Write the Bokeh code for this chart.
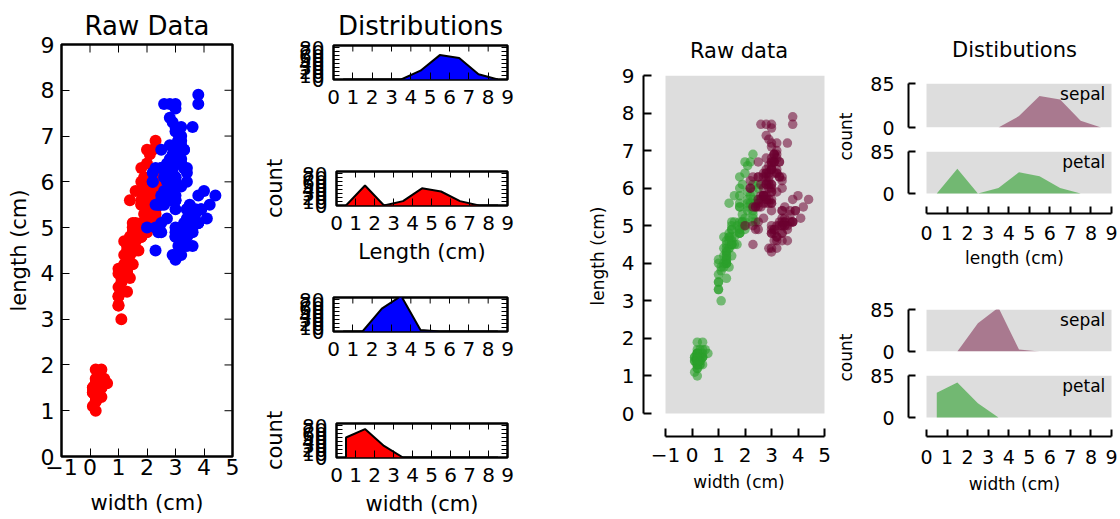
import math
from bokeh.plotting import figure
from bokeh.models import LinearAxis, Range1d, FixedTicker, BoxAnnotation, Label
from bokeh.layouts import row, column
from bokeh.embed import file_html
from bokeh.resources import INLINE

FONT = "DejaVu Sans"

# ---------------- data (iris measurements, cm) ----------------
sepal_length = [5.1,4.9,4.7,4.6,5.0,5.4,4.6,5.0,4.4,4.9,5.4,4.8,4.8,4.3,5.8,5.7,5.4,5.1,5.7,5.1,
                5.4,5.1,4.6,5.1,4.8,5.0,5.0,5.2,5.2,4.7,4.8,5.4,5.2,5.5,4.9,5.0,5.5,4.9,4.4,5.1,
                5.0,4.5,4.4,5.0,5.1,4.8,5.1,4.6,5.3,5.0,
                7.0,6.4,6.9,5.5,6.5,5.7,6.3,4.9,6.6,5.2,5.0,5.9,6.0,6.1,5.6,6.7,5.6,5.8,6.2,5.6,
                5.9,6.1,6.3,6.1,6.4,6.6,6.8,6.7,6.0,5.7,5.5,5.5,5.8,6.0,5.4,6.0,6.7,6.3,5.6,5.5,
                5.5,6.1,5.8,5.0,5.6,5.7,5.7,6.2,5.1,5.7,
                6.3,5.8,7.1,6.3,6.5,7.6,4.9,7.3,6.7,7.2,6.5,6.4,6.8,5.7,5.8,6.4,6.5,7.7,7.7,6.0,
                6.9,5.6,7.7,6.3,6.7,7.2,6.2,6.1,6.4,7.2,7.4,7.9,6.4,6.3,6.1,7.7,6.3,6.4,6.0,6.9,
                6.7,6.9,5.8,6.8,6.7,6.7,6.3,6.5,6.2,5.9]
sepal_width = [3.5,3.0,3.2,3.1,3.6,3.9,3.4,3.4,2.9,3.1,3.7,3.4,3.0,3.0,4.0,4.4,3.9,3.5,3.8,3.8,
               3.4,3.7,3.6,3.3,3.4,3.0,3.4,3.5,3.4,3.2,3.1,3.4,4.1,4.2,3.1,3.2,3.5,3.6,3.0,3.4,
               3.5,2.3,3.2,3.5,3.8,3.0,3.8,3.2,3.7,3.3,
               3.2,3.2,3.1,2.3,2.8,2.8,3.3,2.4,2.9,2.7,2.0,3.0,2.2,2.9,2.9,3.1,3.0,2.7,2.2,2.5,
               3.2,2.8,2.5,2.8,2.9,3.0,2.8,3.0,2.9,2.6,2.4,2.4,2.7,2.7,3.0,3.4,3.1,2.3,3.0,2.5,
               2.6,3.0,2.6,2.3,2.7,3.0,2.9,2.9,2.5,2.8,
               3.3,2.7,3.0,2.9,3.0,3.0,2.5,2.9,2.5,3.6,3.2,2.7,3.0,2.5,2.8,3.2,3.0,3.8,2.6,2.2,
               3.2,2.8,2.8,2.7,3.3,3.2,2.8,3.0,2.8,3.0,2.8,3.8,2.8,2.8,2.6,3.0,3.4,3.1,3.0,3.1,
               3.1,3.1,2.7,3.2,3.3,3.0,2.5,3.0,3.4,3.0]
petal_length = [1.4,1.4,1.3,1.5,1.4,1.7,1.4,1.5,1.4,1.5,1.5,1.6,1.4,1.1,1.2,1.5,1.3,1.4,1.7,1.5,
                1.7,1.5,1.0,1.7,1.9,1.6,1.6,1.5,1.4,1.6,1.6,1.5,1.5,1.4,1.5,1.2,1.3,1.4,1.3,1.5,
                1.3,1.3,1.3,1.6,1.9,1.4,1.6,1.4,1.5,1.4,
                4.7,4.5,4.9,4.0,4.6,4.5,4.7,3.3,4.6,3.9,3.5,4.2,4.0,4.7,3.6,4.4,4.5,4.1,4.5,3.9,
                4.8,4.0,4.9,4.7,4.3,4.4,4.8,5.0,4.5,3.5,3.8,3.7,3.9,5.1,4.5,4.5,4.7,4.4,4.1,4.0,
                4.4,4.6,4.0,3.3,4.2,4.2,4.2,4.3,3.0,4.1,
                6.0,5.1,5.9,5.6,5.8,6.6,4.5,6.3,5.8,6.1,5.1,5.3,5.5,5.0,5.1,5.3,5.5,6.7,6.9,5.0,
                5.7,4.9,6.7,4.9,5.7,6.0,4.8,4.9,5.6,5.8,6.1,6.4,5.6,5.1,5.6,6.1,5.6,5.5,4.8,5.4,
                5.6,5.1,5.1,5.9,5.7,5.2,5.0,5.2,5.4,5.1]
petal_width = [0.2,0.2,0.2,0.2,0.2,0.4,0.3,0.2,0.2,0.1,0.2,0.2,0.1,0.1,0.2,0.4,0.4,0.3,0.3,0.3,
               0.2,0.4,0.2,0.5,0.2,0.2,0.4,0.2,0.2,0.2,0.2,0.4,0.1,0.2,0.2,0.2,0.2,0.1,0.2,0.2,
               0.3,0.3,0.2,0.6,0.4,0.3,0.2,0.2,0.2,0.2,
               1.4,1.5,1.5,1.3,1.5,1.3,1.6,1.0,1.3,1.4,1.0,1.5,1.0,1.4,1.3,1.4,1.5,1.0,1.5,1.1,
               1.8,1.3,1.5,1.2,1.3,1.4,1.4,1.7,1.5,1.0,1.1,1.0,1.2,1.6,1.5,1.6,1.5,1.3,1.3,1.3,
               1.2,1.4,1.2,1.0,1.3,1.2,1.3,1.3,1.1,1.3,
               2.5,1.9,2.1,1.8,2.2,2.1,1.7,1.8,1.8,2.5,2.0,1.9,2.1,2.0,2.4,2.3,1.8,2.2,2.3,1.5,
               2.3,2.0,2.0,1.8,2.1,1.8,1.8,1.8,2.1,1.6,1.9,2.0,2.2,1.5,1.4,2.3,2.4,1.8,1.8,2.1,
               2.4,2.3,1.9,2.3,2.5,2.3,1.9,2.0,2.3,1.8]

# histogram counts (1 cm bins, plotted at bin centres)
bin_centers = [0.5, 1.5, 2.5, 3.5, 4.5, 5.5, 6.5, 7.5, 8.5]
sepal_length_counts = [0, 0, 0, 0, 22, 61, 54, 13, 0]
petal_length_counts = [0, 50, 0, 11, 43, 35, 11, 0, 0]
sepal_width_counts = [0, 0, 57, 89, 4, 0, 0, 0, 0]
petal_width_counts = [50, 71, 29, 0, 0, 0, 0, 0, 0]

# tick labels
scatter_x_ticks = [-1, 0, 1, 2, 3, 4, 5]
scatter_y_ticks = [0, 1, 2, 3, 4, 5, 6, 7, 8, 9]
dist_x_ticks = [0, 1, 2, 3, 4, 5, 6, 7, 8, 9]
dist_count_ticks = [0, 10, 20, 30, 40, 50, 60, 70, 80]
right_count_ticks = [0, 85]
COUNT_MAX = 85
MINUS = {-1: "\u22121"}


def base(width, height, xr, yr, left, right, top, bottom):
    p = figure(width=width, height=height, x_range=xr, y_range=yr,
               output_backend="svg", toolbar_location=None,
               x_axis_location=None, y_axis_location=None,
               min_border_left=left, min_border_right=right,
               min_border_top=top, min_border_bottom=bottom)
    p.frame_align = False
    p.grid.visible = False
    p.outline_line_color = None
    p.background_fill_color = "white"
    p.border_fill_color = "white"
    return p


def add_axis(p, side, ticks, font="20px", standoff=6, tick_in=7,
             tick_width=1, line=None, line_width=2, bounds=None, label=None,
             label_font="20px", label_standoff=5, overrides=None):
    ax = LinearAxis(ticker=FixedTicker(ticks=ticks, minor_ticks=[]))
    if line is None:
        ax.axis_line_color = None
    else:
        ax.axis_line_color = line
        ax.axis_line_width = line_width
    if bounds is not None:
        ax.bounds = bounds
    ax.major_tick_in = tick_in
    ax.major_tick_out = 0
    ax.major_tick_line_color = "black"
    ax.major_tick_line_width = tick_width
    ax.minor_tick_line_color = None
    ax.major_label_text_font = FONT
    ax.major_label_text_font_size = font
    ax.major_label_text_color = "black"
    ax.major_label_standoff = standoff
    if overrides:
        ax.major_label_overrides = overrides
    if label:
        ax.axis_label = label
        ax.axis_label_text_font = FONT
        ax.axis_label_text_font_size = label_font
        ax.axis_label_text_font_style = "normal"
        ax.axis_label_text_color = "black"
        ax.axis_label_standoff = label_standoff
    p.add_layout(ax, side)
    return ax


def inner_ticks(p, xticks, yticks, xr, yr, length):
    # matplotlib "classic" inward ticks on the top and right edges of the frame
    p.scatter(xticks, [yr[1]] * len(xticks), marker="dash", angle=math.pi / 2,
              size=2 * length, line_color="black", line_width=1)
    p.scatter([xr[1]] * len(yticks), yticks, marker="dash",
              size=2 * length, line_color="black", line_width=1)


def set_title(p, text, size, standoff):
    p.title.text = text
    p.title.text_font = FONT
    p.title.text_font_size = size
    p.title.text_font_style = "normal"
    p.title.text_color = "black"
    p.title.align = "center"
    p.title.standoff = standoff


# ---------------- A: left raw-data scatter ----------------
A_XR, A_YR = (-1, 5), (0, 9)
pA = base(260, 519, Range1d(*A_XR), Range1d(*A_YR), 61, 28, 44, 63)
pA.outline_line_color = "black"
pA.outline_line_width = 2.5
set_title(pA, "Raw Data", "26px", 8)
add_axis(pA, "left", scatter_y_ticks, font="22px", standoff=7, tick_in=8,
         label="length (cm)", label_font="21px", label_standoff=7)
add_axis(pA, "below", scatter_x_ticks, font="22px", standoff=2, tick_in=8,
         label="width (cm)", label_font="21px", label_standoff=13, overrides=MINUS)
inner_ticks(pA, scatter_x_ticks, scatter_y_ticks, A_XR, A_YR, 8)
pA.scatter(petal_width, petal_length, size=12, fill_color="#ff0000", line_color=None)
pA.scatter(sepal_width, sepal_length, size=12, fill_color="#0000ff", line_color=None)


# ---------------- B: left distributions ----------------
B_XR, B_YR = (0, 9), (0, COUNT_MAX)


def dist_left(height, top, bottom, counts, color, title=None, xlabel=None, ylabel=None):
    p = base(280, height, Range1d(*B_XR), Range1d(*B_YR), 73, 33, top, bottom)
    p.outline_line_color = "black"
    p.outline_line_width = 2.5
    if title:
        set_title(p, title, "26px", 10)
    add_axis(p, "left", dist_count_ticks, font="20px", standoff=9, tick_in=6,
             label=ylabel, label_font="21px", label_standoff=12)
    add_axis(p, "below", dist_x_ticks, font="20px", standoff=10, tick_in=7,
             label=xlabel, label_font="21px", label_standoff=7)
    p.varea(x=bin_centers, y1=0, y2=counts, fill_color=color)
    xs = [bin_centers[0]] + bin_centers + [bin_centers[-1]]
    ys = [0] + counts + [0]
    p.line(xs, ys, line_color="black", line_width=2)
    inner_ticks(p, dist_x_ticks, dist_count_ticks, B_XR, B_YR, 6)
    return p


B1 = dist_left(134, 45, 55, sepal_length_counts, "#0000ff", title="Distributions")
B2 = dist_left(139, 37, 68, petal_length_counts, "#ff0000", xlabel="Length (cm)", ylabel="count")
B3 = dist_left(117, 24, 59, sepal_width_counts, "#0000ff")
B4 = dist_left(129, 33, 62, petal_width_counts, "#ff0000", xlabel="width (cm)", ylabel="count")

# ---------------- C: right raw-data scatter (offset spines) ----------------
GRAY = "#dddddd"
SEPAL = "#6b0030"
PETAL = "#2ca02c"
# frame spans the offset spines: 22 px left of x=-1, 23 px below y=0, 10 px right of x=5
C_PX_X, C_PX_Y = 26.5, 37.56
pC = base(294, 519, Range1d(-1 - 22 / C_PX_X, 5 + 10 / C_PX_X), Range1d(-23 / C_PX_Y, 9),
          103, 0, 75, 83)
set_title(pC, "Raw data", "21px", 26)
pC.add_layout(BoxAnnotation(left=-1, right=5, bottom=0, top=9, fill_color=GRAY,
                            fill_alpha=1, line_color=None, level="underlay"))
add_axis(pC, "left", scatter_y_ticks, font="20px", standoff=9, tick_in=8, tick_width=2,
         line="black", line_width=2, bounds=(0, 9),
         label="length (cm)", label_font="17px", label_standoff=11)
add_axis(pC, "below", scatter_x_ticks, font="20px", standoff=11, tick_in=8, tick_width=2,
         line="black", line_width=2, bounds=(-1, 5),
         label="width (cm)", label_font="17px", label_standoff=7, overrides=MINUS)
pC.scatter(petal_width, petal_length, size=9.5, fill_color=PETAL, fill_alpha=0.6, line_color=None)
pC.scatter(sepal_width, sepal_length, size=9.5, fill_color=SEPAL, fill_alpha=0.55, line_color=None)

# ---------------- D: right distributions ----------------
D_PX = 185 / 9
D_XR = (-18 / D_PX, 9 + 9 / D_PX)  # y spine 18 px left of x=0


def dist_right(height, top, bottom, y_start, counts, color, alpha, tag, title=None,
               xlabel=None, tick_standoff=12, label_standoff=5):
    p = base(262, height, Range1d(*D_XR), Range1d(y_start, COUNT_MAX), 50, 0, top, bottom)
    p.add_layout(BoxAnnotation(left=0, right=9, bottom=0, top=COUNT_MAX, fill_color=GRAY,
                               fill_alpha=1, line_color=None, level="underlay"))
    if title:
        set_title(p, title, "21px", 44)
    add_axis(p, "left", right_count_ticks, font="19px", standoff=14, tick_in=7, tick_width=2,
             line="black", line_width=2, bounds=(0, COUNT_MAX))
    if xlabel:
        add_axis(p, "below", dist_x_ticks, font="19px", standoff=tick_standoff, tick_in=7,
                 tick_width=2, line="black", line_width=2, bounds=(0, 9),
                 label=xlabel, label_font="17px", label_standoff=label_standoff)
    p.varea(x=bin_centers, y1=0, y2=counts, fill_color=color, fill_alpha=alpha)
    p.add_layout(Label(x=8.7, y=COUNT_MAX, text=tag, text_align="right", text_baseline="top",
                       text_font=FONT, text_font_size="17px", text_color="black"))
    return p


D1 = dist_right(140, 83, 13, 0, sepal_length_counts, SEPAL, 0.45, "sepal", title="Distibutions")
D2 = dist_right(132, 11, 59, -COUNT_MAX * 20 / 42, petal_length_counts, PETAL, 0.6, "petal",
                xlabel="length (cm)", tick_standoff=12, label_standoff=5)
D3 = dist_right(90, 37, 11, 0, sepal_width_counts, SEPAL, 0.45, "sepal")
D4 = dist_right(157, 13, 83, -COUNT_MAX * 19 / 42, petal_width_counts, PETAL, 0.6, "petal",
                xlabel="width (cm)", tick_standoff=13, label_standoff=7)

# shared "count" labels for each pair of right-hand panels
DT = base(24, 519, Range1d(0, 24), Range1d(519, 0), 0, 0, 0, 0)
for yc in (136, 357):
    DT.add_layout(Label(x=11, y=yc, text="count", angle=math.pi / 2, text_align="center",
                        text_baseline="middle", text_font=FONT, text_font_size="17px",
                        text_color="black"))

layout = row(pA, column(B1, B2, B3, B4), pC, DT, column(D1, D2, D3, D4))

with open("out.html", "w") as f:
    f.write(file_html(layout, INLINE))
